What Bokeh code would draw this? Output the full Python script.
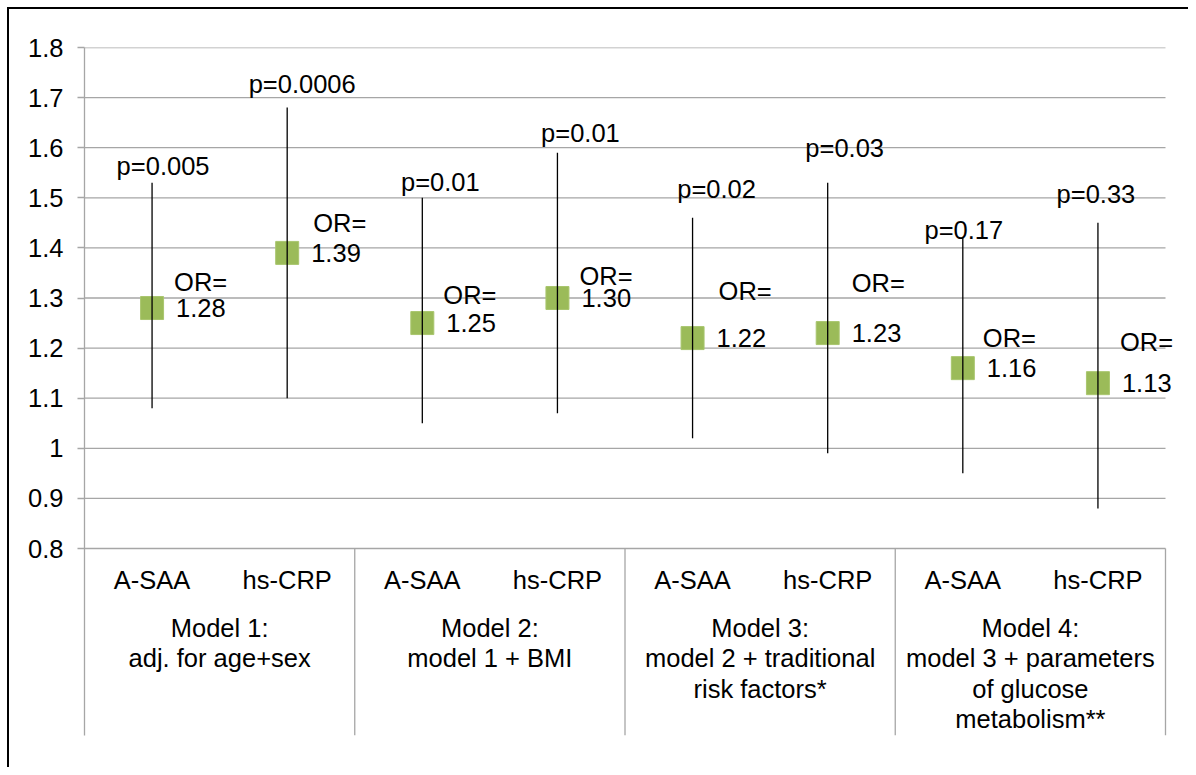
from bokeh.plotting import figure
from bokeh.models import Range1d, FixedTicker, ColumnDataSource
from bokeh.embed import file_html
from bokeh.resources import INLINE
from bokeh.core.properties import value

# ---------------- data ----------------
models = ["Model 1", "Model 2", "Model 3", "Model 4"]
model_labels = [
    ["Model 1:", "adj. for age+sex"],
    ["Model 2:", "model 1 + BMI"],
    ["Model 3:", "model 2 + traditional", "risk factors*"],
    ["Model 4:", "model 3 + parameters", "of glucose", "metabolism**"],
]
markers = ["A-SAA", "hs-CRP"]
odds_ratio = [1.28, 1.39, 1.25, 1.30, 1.22, 1.23, 1.16, 1.13]
ci_low = [1.08, 1.10, 1.05, 1.07, 1.02, 0.99, 0.95, 0.88]
ci_high = [1.53, 1.68, 1.50, 1.59, 1.46, 1.53, 1.42, 1.45]
p_values = ["0.005", "0.0006", "0.01", "0.01", "0.02", "0.03", "0.17", "0.33"]
y_ticks = [0.8, 0.9, 1.0, 1.1, 1.2, 1.3, 1.4, 1.5, 1.6, 1.7, 1.8]
y_tick_labels = ["0.8", "0.9", "1", "1.1", "1.2", "1.3", "1.4", "1.5", "1.6", "1.7", "1.8"]

# ---------------- label placement (px) ----------------
p_label_dx = [11, 15, 18, 23, 24, 17, 1, -2]
p_label_dy = [17, 24, 16, 20, 29, 35, 8, 29]
or_label_dx = [22, 26, 21, 22, 26, 24, 20, 22]
or_label_dy = [26, 30, 28, 22, 47, 50, 30, 41]
val_label_dx = 24

# ---------------- geometry ----------------
W, H = 1188, 767
FRAME_L, FRAME_T, FRAME_B = 84, 47, 735
PLOT_R = 1165                      # right end of the category area
PX_PER_UNIT = 501.0
Y_TOP = y_ticks[-1]
Y_BASE = y_ticks[0]
Y_BOT = Y_TOP - (FRAME_B - FRAME_T) / PX_PER_UNIT
N = len(models) * len(markers)
X_END = N * (W - FRAME_L) / (PLOT_R - FRAME_L)

FONT = value("Liberation Sans")
FS = "25.5px"
GRAY = "#A6A6A6"

p = figure(width=W, height=H, output_backend="svg", toolbar_location=None,
           x_range=Range1d(0, X_END), y_range=Range1d(Y_BOT, Y_TOP),
           x_axis_location=None, min_border_left=FRAME_L, min_border_top=FRAME_T,
           min_border_right=0, min_border_bottom=H - FRAME_B)
p.outline_line_color = None
p.background_fill_alpha = 0
p.border_fill_alpha = 0
# outer chart-area border (only its top and left edges fall inside the picture)
p.styles = {
    "background-color": "#ffffff",
    "background-image": "linear-gradient(#000,#000), linear-gradient(#000,#000)",
    "background-position": "7px 7px, 7px 7px",
    "background-size": "100% 2px, 2px 100%",
    "background-repeat": "no-repeat",
}

# y axis
p.yaxis.ticker = FixedTicker(ticks=y_ticks)
p.yaxis.major_label_overrides = {t: l for t, l in zip(y_ticks, y_tick_labels)}
p.yaxis.axis_line_color = GRAY
p.yaxis.axis_line_width = 1.3
p.yaxis.major_tick_line_color = GRAY
p.yaxis.major_tick_line_width = 1.3
p.yaxis.major_tick_out = 7
p.yaxis.major_tick_in = 0
p.yaxis.minor_tick_line_color = None
p.yaxis.major_label_text_font = "Liberation Sans"
p.yaxis.major_label_text_font_size = FS
p.yaxis.major_label_text_color = "#000000"
p.yaxis.major_label_standoff = 14

p.xgrid.visible = False
p.ygrid.visible = False

# horizontal gridlines across the category area only
p.segment(x0=[0] * len(y_ticks), y0=y_ticks, x1=[N] * len(y_ticks), y1=y_ticks,
          line_color=GRAY, line_width=1.3)

# x positions from categories
xs = [i + 0.5 for i in range(N)]
cat_marker = [markers[i % len(markers)] for i in range(N)]

# group separators below the axis
seps = [float(g * len(markers)) for g in range(1, len(models) + 1)]
p.segment(x0=seps, y0=[Y_BASE] * len(seps), x1=seps, y1=[Y_BOT] * len(seps),
          line_color=GRAY, line_width=1.3)

src = ColumnDataSource(dict(
    x=xs, orv=odds_ratio, lo=ci_low, hi=ci_high,
    ptext=["p=" + s for s in p_values],
    py=[h + d / PX_PER_UNIT for h, d in zip(ci_high, p_label_dy)],
    pdx=p_label_dx,
    ortext=["OR="] * N,
    ory=[v + d / PX_PER_UNIT for v, d in zip(odds_ratio, or_label_dy)],
    ordx=or_label_dx,
    valtext=["%.2f" % v for v in odds_ratio],
))

p.scatter(x="x", y="orv", source=src, marker="square", size=23,
          fill_color="#9BBB59", line_color="#A9C66E", line_width=1)
p.segment(x0="x", y0="lo", x1="x", y1="hi", source=src,
          line_color="#000000", line_width=1.3)

p.text(x="x", y="py", text="ptext", source=src, x_offset="pdx",
       text_font=FONT, text_font_size=FS, text_color="#000000",
       text_align="center", text_baseline="middle")
p.text(x="x", y="ory", text="ortext", source=src, x_offset="ordx",
       text_font=FONT, text_font_size=FS, text_color="#000000",
       text_align="left", text_baseline="middle")
p.text(x="x", y="orv", text="valtext", source=src, x_offset=val_label_dx,
       text_font=FONT, text_font_size=FS, text_color="#000000",
       text_align="left", text_baseline="middle")

# category labels
p.text(x=xs, y=[Y_BASE - 31 / PX_PER_UNIT] * N, text=cat_marker,
       text_font=FONT, text_font_size=FS, text_color="#000000",
       text_align="center", text_baseline="middle")

gx, gy, gt = [], [], []
for g, lines in enumerate(model_labels):
    for k, line in enumerate(lines):
        gx.append(g * len(markers) + len(markers) / 2)
        gy.append(Y_BASE - (79 + 30.5 * k) / PX_PER_UNIT)
        gt.append(line)
p.text(x=gx, y=gy, text=gt,
       text_font=FONT, text_font_size=FS, text_color="#000000",
       text_align="center", text_baseline="middle")

open("out.html", "w").write(file_html(p, INLINE))
